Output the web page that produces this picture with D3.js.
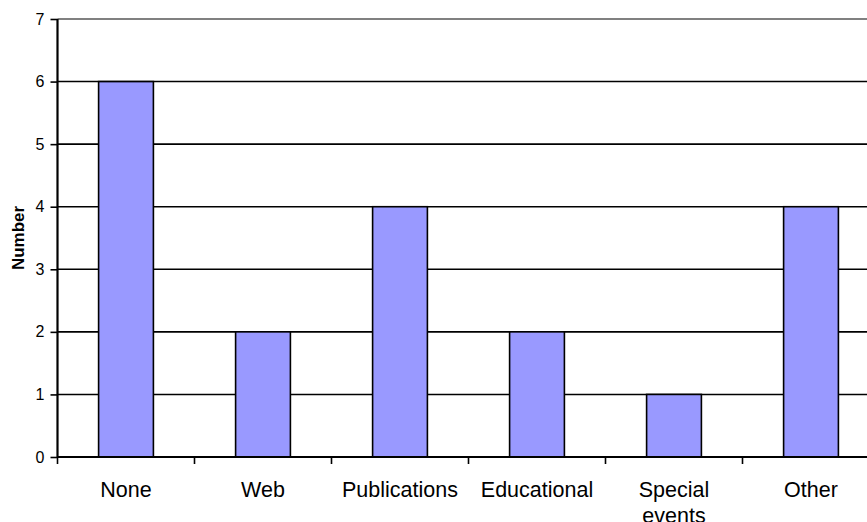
<!DOCTYPE html>
<html>
<head>
<meta charset="utf-8">
<script src="https://cdn.jsdelivr.net/npm/d3@7"></script>
<style>
  html, body { margin: 0; padding: 0; background: #fff; }
  svg { display: block; }
</style>
</head>
<body>
<svg id="chart" width="867" height="522"></svg>
<script>
const categories = ["None", "Web", "Publications", "Educational", "Special events", "Other"];
const values = [6, 2, 4, 2, 1, 4];
const yTicks = [0, 1, 2, 3, 4, 5, 6, 7];
const yLabel = "Number";

(function () {
const svg = d3.select("#chart");
const pLeft = 57.5, pRight = 879.5, pTop = 19, pBottom = 457;

const x = d3.scaleBand().domain(categories).range([pLeft, pRight])
  .paddingInner(0.6).paddingOuter(0.3);
const xb = d3.scaleBand().domain(categories).range([pLeft, pRight]).padding(0);
const y = d3.scaleLinear().domain([0, 7]).range([pBottom, pTop]);

// gridlines
svg.append("g").selectAll("line").data(yTicks.filter(t => t > 0 && t < 7)).join("line")
  .attr("x1", pLeft).attr("x2", pRight)
  .attr("y1", d => y(d)).attr("y2", d => y(d))
  .attr("stroke", "#000").attr("stroke-width", 1.6);

// top border of plot area
svg.append("line").attr("x1", pLeft).attr("x2", pRight)
  .attr("y1", y(7)).attr("y2", y(7))
  .attr("stroke", "#808080").attr("stroke-width", 2);

// bars
svg.append("g").selectAll("rect").data(categories).join("rect")
  .attr("x", d => x(d)).attr("width", x.bandwidth())
  .attr("y", (d, i) => y(values[i])).attr("height", (d, i) => y(0) - y(values[i]))
  .attr("fill", "#9999FF").attr("stroke", "#000").attr("stroke-width", 1.6);

// y axis
const yAxis = d3.axisLeft(y).tickValues(yTicks).tickSize(7).tickPadding(6).tickFormat(d3.format("d"));
const gy = svg.append("g").attr("transform", `translate(${pLeft},0)`).call(yAxis);
gy.select(".domain").attr("stroke", "#000").attr("stroke-width", 2.2).attr("d", `M0,${pTop}V${pBottom}`);
gy.selectAll(".tick line").attr("stroke", "#000").attr("stroke-width", 1.6);
gy.selectAll(".tick text").attr("font-family", "Liberation Sans, Arial, sans-serif")
  .attr("font-size", 16).attr("fill", "#000");

// x axis with ticks at band boundaries
const gx = svg.append("g").attr("transform", `translate(0,${pBottom})`);
gx.append("line").attr("x1", pLeft).attr("x2", pRight).attr("y1", 0).attr("y2", 0)
  .attr("stroke", "#000").attr("stroke-width", 2.2);
const boundaries = categories.map(c => xb(c)).concat([pRight]);
gx.selectAll("line.tk").data(boundaries).join("line").attr("class", "tk")
  .attr("x1", d => d).attr("x2", d => d).attr("y1", 0).attr("y2", 7)
  .attr("stroke", "#000").attr("stroke-width", 1.6);

const labels = gx.selectAll("text.lbl").data(categories).join("text").attr("class", "lbl")
  .attr("text-anchor", "middle")
  .attr("font-family", "Liberation Sans, Arial, sans-serif")
  .attr("font-size", 21.5).attr("fill", "#000")
  .attr("transform", d => `translate(${xb(d) + xb.bandwidth() / 2},40)`);
labels.each(function(d) {
  const words = d.split(" ");
  const t = d3.select(this);
  words.forEach((w, i) => {
    t.append("tspan").attr("x", 0).attr("y", i * 25.5).text(w);
  });
});

// y label
svg.append("text")
  .attr("transform", `translate(24,${(pTop + pBottom) / 2}) rotate(-90)`)
  .attr("text-anchor", "middle")
  .attr("font-family", "Liberation Sans, Arial, sans-serif")
  .attr("font-weight", "bold").attr("font-size", 17).attr("fill", "#000")
  .text(yLabel);
})();
</script>
</body>
</html>
